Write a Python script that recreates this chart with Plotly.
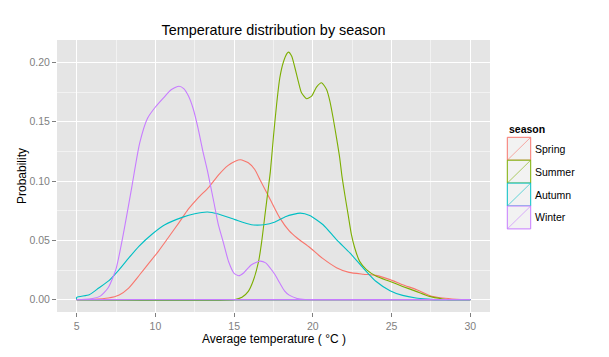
import plotly.graph_objects as go

# ---------------- data ----------------
seasons = ["Spring", "Summer", "Autumn", "Winter"]
colors = ["#F8766D", "#7CAE00", "#00BFC4", "#C77CFF"]

spring_x = [5, 6, 7, 7.7, 8.3, 9.0, 9.6, 10.2, 10.8, 11.5, 12.1, 12.7, 13.4, 14.0, 14.6, 15.1,
            15.4, 15.9, 16.3, 16.65, 17.3, 17.9, 18.5, 19.0, 19.8, 20.6, 21.5, 22.3, 23.2, 24.0,
            24.9, 25.7, 26.6, 27.4, 28.25, 29.1, 30]
spring_y = [0, 0.0003, 0.0014, 0.004, 0.0098, 0.021, 0.031, 0.041, 0.052, 0.065, 0.0765, 0.0857,
            0.095, 0.105, 0.113, 0.117, 0.118, 0.1155, 0.110, 0.101, 0.0843, 0.069, 0.058, 0.052,
            0.044, 0.035, 0.027, 0.023, 0.0215, 0.0205, 0.0169, 0.0126, 0.0084, 0.0036, 0.0014,
            0.0004, 0]

summer_x = [5, 15, 15.5, 15.9, 16.2, 16.55, 16.75, 16.96, 17.17, 17.3, 17.5, 17.7, 17.9, 18.12,
            18.35, 18.45, 18.65, 18.86, 19.07, 19.28, 19.6, 19.92, 20.23, 20.55, 20.87, 21.08,
            21.29, 21.5, 21.7, 21.85, 22.03, 22.24, 22.45, 22.66, 22.97, 23.4, 24.03, 24.87,
            25.7, 26.56, 27.4, 28.25, 28.6, 30]
summer_y = [0, 0, 0.002, 0.007, 0.0155, 0.032, 0.049, 0.0717, 0.094, 0.108, 0.138, 0.165, 0.187,
            0.200, 0.2075, 0.2088, 0.2055, 0.1956, 0.1844, 0.1745, 0.1695, 0.1717, 0.1793, 0.183,
            0.1773, 0.1675, 0.153, 0.1366, 0.12, 0.104, 0.0885, 0.0717, 0.0548, 0.0436, 0.0323,
            0.0253, 0.0197, 0.0155, 0.0112, 0.007, 0.0028, 0.0006, 0, 0]

autumn_x = [5, 5.8, 6.4, 7.05, 7.7, 8.3, 8.95, 9.8, 10.6, 11.7, 12.5, 13.3, 14.0, 15.05, 16.1,
            16.9, 17.6, 18.3, 19.2, 19.8, 20.65, 21.5, 22.35, 23.2, 24.0, 24.9, 25.7, 26.55,
            27.3, 28, 30]
autumn_y = [0.002, 0.0042, 0.0098, 0.016, 0.0253, 0.035, 0.045, 0.0554, 0.0632, 0.0694, 0.0725,
            0.074, 0.0723, 0.0675, 0.0632, 0.0632, 0.0655, 0.0702, 0.073, 0.071, 0.0632, 0.0506,
            0.0394, 0.0267, 0.0155, 0.0076, 0.0036, 0.0014, 0.0005, 0, 0]

winter_x = [5, 5.5, 6, 6.5, 7, 7.5, 8, 8.5, 9, 9.5, 10, 10.5, 11, 11.5, 11.8, 12.1, 12.4, 12.7,
            13, 13.3, 13.7, 14, 14.3, 14.65, 15, 15.3, 15.6, 16.1, 16.65, 17, 17.3, 17.6, 17.9,
            18.2, 18.5, 19, 19.5, 20, 30]
winter_y = [0, 0.0003, 0.001, 0.003, 0.010, 0.026, 0.058, 0.095, 0.132, 0.153, 0.1625, 0.170,
            0.177, 0.180, 0.178, 0.1717, 0.161, 0.145, 0.126, 0.109, 0.083, 0.063, 0.049, 0.032,
            0.0222, 0.0202, 0.0225, 0.0295, 0.0325, 0.031, 0.0265, 0.021, 0.014, 0.0075, 0.0038,
            0.001, 0.0001, 0, 0]

series_x = [spring_x, summer_x, autumn_x, winter_x]
series_y = [spring_y, summer_y, autumn_y, winter_y]

x_ticks = [5, 10, 15, 20, 25, 30]
y_ticks = [0.00, 0.05, 0.10, 0.15, 0.20]
y_tick_labels = ["0.00", "0.05", "0.10", "0.15", "0.20"]

# ---------------- figure ----------------
W, H = 609, 357
L, R, T, B = 57, 490, 40, 312   # panel edges in pixels
FONT = "Liberation Sans, Arial, sans-serif"

fig = go.Figure()
for name, col, xs, ys in zip(seasons, colors, series_x, series_y):
    fig.add_trace(go.Scatter(
        x=[xs[0]] + xs, y=[0] + ys, mode="lines",
        line=dict(color=col, width=1.1, shape="spline", smoothing=0.6),
        showlegend=False, hoverinfo="skip"))
    fig.add_trace(go.Scatter(
        x=[xs[0], xs[-1]], y=[0, 0], mode="lines",
        line=dict(color=col, width=1.1), showlegend=False, hoverinfo="skip"))

def px2paper_x(px):
    return (px - L) / (R - L)

def px2paper_y(py):
    return (B - py) / (B - T)

shapes = []
annotations = []
# legend (drawn manually, ggplot style)
key_x0, key_x1 = 507.3, 530.7
key_top, key_h = 137.3, 22.9
for i, (name, col) in enumerate(zip(seasons, colors)):
    y_top = key_top + i * key_h
    y_bot = y_top + key_h
    shapes.append(dict(type="rect", xref="paper", yref="paper",
                       x0=px2paper_x(key_x0), x1=px2paper_x(key_x1),
                       y0=px2paper_y(y_bot), y1=px2paper_y(y_top),
                       fillcolor="#F2F2F2", line=dict(color=col, width=1), layer="above"))
    shapes.append(dict(type="line", xref="paper", yref="paper",
                       x0=px2paper_x(key_x0), x1=px2paper_x(key_x1),
                       y0=px2paper_y(y_bot), y1=px2paper_y(y_top),
                       line=dict(color=col, width=0.6), layer="above"))
    annotations.append(dict(text=name, xref="paper", yref="paper",
                            x=px2paper_x(533), y=px2paper_y((y_top + y_bot) / 2),
                            xanchor="left", yanchor="middle", showarrow=False,
                            font=dict(family=FONT, size=10.5, color="black")))
annotations.append(dict(text="<b>season</b>", xref="paper", yref="paper",
                        x=px2paper_x(506.5), y=px2paper_y(129), xanchor="left",
                        yanchor="middle", showarrow=False,
                        font=dict(family=FONT, size=10.5, color="black")))
# axis titles
annotations.append(dict(text="Average temperature ( °C )", xref="paper", yref="paper",
                        x=0.5, y=px2paper_y(339), xanchor="center", yanchor="middle",
                        showarrow=False, font=dict(family=FONT, size=12, color="black")))
annotations.append(dict(text="Probability", xref="paper", yref="paper",
                        x=px2paper_x(22), y=px2paper_y(176), xanchor="center",
                        yanchor="middle", textangle=-90, showarrow=False,
                        font=dict(family=FONT, size=12, color="black")))

fig.update_layout(
    width=W, height=H,
    margin=dict(l=L, r=W - R, t=T, b=H - B, pad=0),
    paper_bgcolor="white", plot_bgcolor="#E5E5E5",
    title=dict(text="Temperature distribution by season", x=0.5, xref="paper",
               y=1 - 30 / H, yref="container", xanchor="center", yanchor="middle",
               font=dict(family=FONT, size=14.4, color="black")),
    shapes=shapes, annotations=annotations,
    font=dict(family=FONT),
)
fig.update_xaxes(range=[3.75, 31.25], tickvals=x_ticks, ticks="outside", ticklen=4,
                 tickwidth=1, tickcolor="#7F7F7F",
                 tickfont=dict(family=FONT, size=10.5, color="#7F7F7F"),
                 showgrid=True, gridcolor="white", gridwidth=1.1, zeroline=False,
                 showline=False,
                 minor=dict(tickvals=[7.5, 12.5, 17.5, 22.5, 27.5], showgrid=True,
                            gridcolor="#F2F2F2", gridwidth=0.6, ticks=""))
fig.update_yaxes(range=[-0.0104, 0.219], tickvals=y_ticks, ticktext=y_tick_labels,
                 ticks="outside", ticklen=4, tickwidth=1, tickcolor="#7F7F7F",
                 tickfont=dict(family=FONT, size=10.5, color="#7F7F7F"),
                 showgrid=True, gridcolor="white", gridwidth=1.1, zeroline=False,
                 showline=False,
                 minor=dict(tickvals=[0.025, 0.075, 0.125, 0.175], showgrid=True,
                            gridcolor="#F2F2F2", gridwidth=0.6, ticks=""))

fig.write_html("out.html", config={"displayModeBar": False},
               post_script="document.body.style.margin='0';document.body.style.padding='0';")
